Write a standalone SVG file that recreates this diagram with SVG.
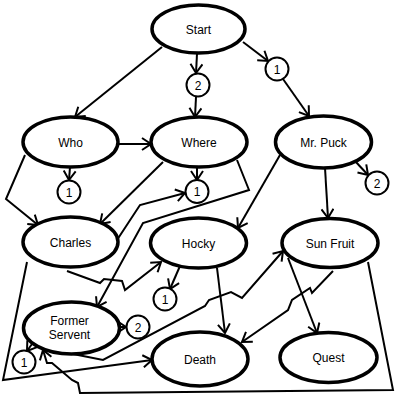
<svg xmlns="http://www.w3.org/2000/svg" width="400" height="400" viewBox="0 0 400 400">
<style>
.n ellipse{fill:#fff;stroke:#000;stroke-width:3.5}
.c circle{fill:#fff;stroke:#000;stroke-width:2}
text{font-family:"Liberation Sans",Arial,sans-serif;font-size:12px;text-anchor:middle;fill:#000}
.e path{fill:none;stroke:#000;stroke-width:2;marker-end:url(#a)}
</style>
<defs>
<marker id="a" markerUnits="userSpaceOnUse" markerWidth="14" markerHeight="14" viewBox="0 0 14 14" refX="12" refY="7" orient="auto">
<path d="M3,1 L12,7 L3,13" fill="none" stroke="#000" stroke-width="2"/>
</marker>
</defs>
<rect width="400" height="400" fill="#fff"/>
<g id="connectors" class="e">
<path d="M162,47 L75,117"/>
<path d="M197,54 L196,73"/>
<path d="M196,97 L195,117"/>
<path d="M243,42 L268,61"/>
<path d="M283,79 L309,116"/>
<path d="M118,144 L151,144"/>
<path d="M70,167 L69,180"/>
<path d="M25,155 L6,199 L38,225"/>
<path d="M163,162 L100,224"/>
<path d="M197,167 L197,180"/>
<path d="M237,160 L249,190 L143,223 L97,307"/>
<path d="M117,240 L140,205 L185,193"/>
<path d="M67,271 L100,283 L104,279 L122,281 L125,290 L161,262"/>
<path d="M27,262 L3,380 L152,360"/>
<path d="M280,155 L238,228"/>
<path d="M325,168 L328,218"/>
<path d="M355,161 L368,175"/>
<path d="M180,266 L170,289"/>
<path d="M217,268 L225,333"/>
<path d="M333,271 L312,293 L310,288 L292,300 L288,310 L242,342"/>
<path d="M288,258 L317,333"/>
<path d="M368,262 L393,390 L80,393 L78,383 L72,380 L52,363 L47,363 L43,350"/>
<path d="M119,327 L126,327"/>
<path d="M32,344 L27,351"/>
<path d="M73,354 L103,360 L205,306 L209,300 L231,292 L242,298 L283,251"/>
</g>
<g id="start" class="n"><ellipse cx="198.5" cy="29" rx="46.5" ry="24"/><text x="198.5" y="33.5">Start</text></g>
<g id="who" class="n"><ellipse cx="70.5" cy="142" rx="47.5" ry="25"/><text x="70.5" y="146.5">Who</text></g>
<g id="where" class="n"><ellipse cx="199" cy="142" rx="48" ry="25"/><text x="199" y="146.5">Where</text></g>
<g id="mrpuck" class="n"><ellipse cx="323.5" cy="142" rx="48" ry="26"/><text x="323.5" y="146.5">Mr. Puck</text></g>
<g id="charles" class="n"><ellipse cx="70.5" cy="242" rx="47.5" ry="25"/><text x="70.5" y="246.5">Charles</text></g>
<g id="hocky" class="n"><ellipse cx="198.5" cy="243" rx="48" ry="25"/><text x="198.5" y="247.5">Hocky</text></g>
<g id="sunfruit" class="n"><ellipse cx="330" cy="243" rx="48" ry="24.5"/><text x="330" y="247.5">Sun Fruit</text></g>
<g id="formerservent" class="n"><ellipse cx="71.5" cy="328" rx="48" ry="26"/><text x="69.5" y="325">Former</text><text x="69.5" y="339">Servent</text></g>
<g id="death" class="n"><ellipse cx="200" cy="359" rx="48" ry="27"/><text x="200" y="363.5">Death</text></g>
<g id="quest" class="n"><ellipse cx="328.5" cy="357.5" rx="48.5" ry="25"/><text x="328.5" y="362">Quest</text></g>
<g id="l1" class="c"><circle cx="198" cy="85" r="11.5"/><text x="198" y="89.5">2</text></g>
<g id="l2" class="c"><circle cx="277" cy="69" r="11.5"/><text x="277" y="73.5">1</text></g>
<g id="l3" class="c"><circle cx="69" cy="192" r="11.5"/><text x="69" y="196.5">1</text></g>
<g id="l4" class="c"><circle cx="197" cy="191.5" r="11.5"/><text x="197" y="196">1</text></g>
<g id="l5" class="c"><circle cx="377" cy="183" r="11.5"/><text x="377" y="187.5">2</text></g>
<g id="l6" class="c"><circle cx="165" cy="299" r="11.5"/><text x="165" y="303.5">1</text></g>
<g id="l7" class="c"><circle cx="138" cy="327" r="11.5"/><text x="138" y="331.5">2</text></g>
<g id="l8" class="c"><circle cx="24" cy="362" r="11.5"/><text x="24" y="366.5">1</text></g>
</svg>
